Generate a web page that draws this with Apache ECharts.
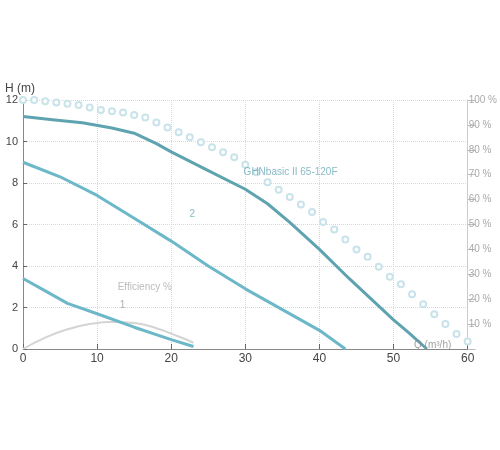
<!DOCTYPE html>
<html>
<head>
<meta charset="utf-8">
<script src="https://cdn.jsdelivr.net/npm/echarts@6/dist/echarts.min.js"></script>
<style>html,body{margin:0;padding:0;background:#fff}#main{width:500px;height:450px}</style>
</head>
<body>
<div id="main"></div>
<script>
// curves: [Q, H]
var curveMain = [[0,11.2],[4,11.05],[8,10.9],[12,10.65],[15,10.4],[18,9.9],[20,9.5],[25,8.6],[30,7.7],[33,7.0],[36,6.1],[40,4.8],[44,3.4],[47,2.4],[50,1.4],[52,0.8],[54.5,0]];
var curve2 = [[0,9.0],[5,8.3],[10,7.4],[15,6.3],[20,5.2],[25,4.0],[30,2.9],[35,1.9],[40,0.9],[43.5,0]];
var curve1 = [[0,3.4],[3,2.8],[6,2.2],[10,1.7],[15,1.05],[20,0.45],[23,0.12]];
var efficiency = [[0,0],[3,0.55],[6,0.95],[9,1.2],[12,1.3],[15,1.25],[18,1.0],[21,0.6],[23,0.3]];
// percent curve (right axis)
var percentDots = [[0,100],[1.5,100],[3,99.5],[4.5,99],[6,98.5],[7.5,98],[9,97],[10.5,96],[12,95.5],[13.5,95],[15,94],[16.5,93],[18,91],[19.5,89],[21,87],[22.5,85],[24,83],[25.5,81],[27,79],[28.5,77],[30,74],[31.5,71],[33,67],[34.5,64],[36,61],[37.5,58],[39,55],[40.5,51],[42,48],[43.5,44],[45,40],[46.5,37],[48,33],[49.5,29],[51,26],[52.5,22],[54,18],[55.5,14],[57,10],[58.5,6],[60,3]];
var rightTicks = ['', '10 %', '20 %', '30 %', '40 %', '50 %', '60 %', '70 %', '80 %', '90 %', '100 %'];

var myChart = echarts.init(document.getElementById('main'));
var font = 'Liberation Sans';
var teal = '#5fa3b0', teal2 = '#6cb8c9';

function textPoint(pos, text, color) {
    return {
        type: 'scatter', data: [pos], symbolSize: 0, silent: true, z: 10,
        label: {show: true, position: 'right', formatter: text, color: color, fontFamily: font, fontSize: 10, distance: 2}
    };
}

var option = {
    animation: false,
    grid: {left: 23, right: 30, top: 100, bottom: 101},
    textStyle: {fontFamily: font},
    xAxis: {
        type: 'value', min: 0, max: 60, interval: 10,
        axisLine: {lineStyle: {color: '#888'}},
        axisTick: {show: true, inside: true, length: 5, lineStyle: {color: '#666'}},
        axisLabel: {color: '#444', fontSize: 12, margin: 4},
        splitLine: {lineStyle: {color: '#d8d8d8', type: 'dotted'}}
    },
    yAxis: [{
        type: 'value', min: 0, max: 12, interval: 2,
        name: 'H (m)', nameGap: 4, nameTextStyle: {color: '#444', fontSize: 12, align: 'left', padding: [0, 0, 0, -18]},
        axisLine: {show: true, lineStyle: {color: '#888'}},
        axisTick: {show: true, inside: true, length: 4, lineStyle: {color: '#666'}},
        axisLabel: {color: '#444', fontSize: 11, margin: 5},
        splitLine: {lineStyle: {color: '#d8d8d8', type: 'dotted'}}
    }, {
        type: 'value', min: 0, max: 100, interval: 10, position: 'right',
        axisLine: {show: true, lineStyle: {color: '#ccc'}},
        axisTick: {show: true, length: 8, lineStyle: {color: '#bbb'}},
        axisLabel: {color: '#aaa', fontSize: 10, margin: 1, formatter: function (v) { return rightTicks[v / 10]; }},
        splitLine: {show: false}
    }],
    series: [
        {type: 'line', yAxisIndex: 1, data: percentDots, showSymbol: true, symbol: 'emptyCircle', symbolSize: 6,
         lineStyle: {width: 0}, itemStyle: {color: '#c9e3ea', borderWidth: 1.5}},
        {type: 'line', data: efficiency, smooth: true, showSymbol: false, lineStyle: {color: '#d4d4d4', width: 2}},
        {type: 'line', data: curveMain, showSymbol: false, lineStyle: {color: teal, width: 3}},
        {type: 'line', data: curve2, showSymbol: false, lineStyle: {color: teal2, width: 3}},
        {type: 'line', data: curve1, showSymbol: false, lineStyle: {color: teal2, width: 3}},
        textPoint([29.5, 8.5], 'GHNbasic II 65-120F', '#6aa9b8'),
        textPoint([22.2, 6.5], '2', '#6aa9b8'),
        textPoint([12.8, 2.1], '1', '#999'),
        textPoint([12.5, 3.0], 'Efficiency %', '#aaa'),
        textPoint([52.5, 0.2], 'Q (m³/h)', '#888')
    ]
};
myChart.setOption(option);
</script>
</body>
</html>
